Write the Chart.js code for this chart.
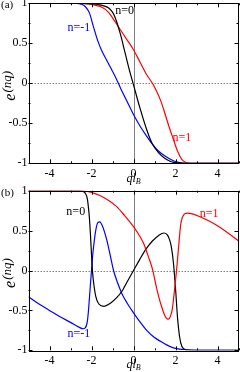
<!DOCTYPE html>
<html>
<head>
<meta charset="utf-8">
<script src="https://cdn.jsdelivr.net/npm/chart.js@4/dist/chart.umd.min.js"></script>
<style>
  html, body { margin: 0; padding: 0; background: #fff; }
  #wrap { position: relative; width: 240px; height: 372px; }
  canvas { position: absolute; left: 0; display: block; }
</style>
</head>
<body>
<div id="wrap">
  <canvas id="chartA" width="240" height="186" style="top:0"></canvas>
  <canvas id="chartB" width="240" height="186" style="top:186px"></canvas>
</div>
<script>
// ---- data ----
const xTickVals = [-4, -2, 0, 2, 4];
const yTickVals = [-1, -0.5, 0, 0.5, 1];
const yTickText = ['-1', '-0.5', '0', '0.5', '1'];

// panel (a)
const aBlackX = [-5, -2.5, -2, -1.5, -1.2, -1.0, -0.87, -0.63, -0.4, -0.16, 0, 0.32, 0.63, 0.9, 1.2, 1.5, 1.8, 2.1, 2.5, 5];
const aBlackY = [1, 1, 0.995, 0.975, 0.945, 0.89, 0.82, 0.62, 0.38, 0.13, -0.02, -0.32, -0.58, -0.76, -0.87, -0.94, -0.98, -0.995, -1, -1];
const aRedX = [-5, -2.5, -2.1, -1.8, -1.5, -1.2, -0.9, -0.6, -0.3, 0, 0.3, 0.6, 0.9, 1.1, 1.3, 1.5, 1.7, 1.9, 2.1, 2.3, 2.5, 2.7, 3, 5];
const aRedY = [1, 1, 0.99, 0.975, 0.95, 0.89, 0.78, 0.66, 0.54, 0.42, 0.27, 0.12, 0.0, -0.1, -0.22, -0.38, -0.55, -0.7, -0.85, -0.95, -0.99, -1, -1, -1];
const aBlueX = [-5, -2.7, -2.5, -2.3, -2.1, -1.9, -1.7, -1.5, -1.3, -1.1, -0.9, -0.6, -0.3, 0, 0.3, 0.6, 0.9, 1.2, 1.5, 1.8, 2.1, 2.5, 3, 5];
const aBlueY = [1, 1, 0.99, 0.96, 0.88, 0.7, 0.53, 0.4, 0.3, 0.2, 0.1, -0.07, -0.23, -0.39, -0.53, -0.65, -0.76, -0.85, -0.91, -0.955, -0.985, -1, -1, -1];

// panel (b)
const bBlackX = [-5, -2.6, -2.4, -2.3, -2.2, -2.15, -2.1, -2.05, -2.0, -1.95, -1.9, -1.8, -1.65, -1.4, -1.1, -0.8, -0.55, -0.3, 0, 0.3, 0.6, 0.9, 1.2, 1.45, 1.6, 1.7, 1.8, 1.9, 2.0, 2.1, 2.2, 2.3, 2.5, 3, 5];
const bBlackY = [1, 1, 0.99, 0.97, 0.9, 0.8, 0.66, 0.45, 0.2, -0.02, -0.15, -0.32, -0.42, -0.45, -0.41, -0.34, -0.26, -0.14, 0, 0.14, 0.27, 0.37, 0.44, 0.47, 0.45, 0.4, 0.3, 0.1, -0.22, -0.6, -0.84, -0.95, -0.995, -1, -1];
const bRedX = [-5, -2.5, -2.2, -1.9, -1.6, -1.2, -0.8, -0.4, 0, 0.3, 0.5, 0.7, 0.9, 1.1, 1.3, 1.5, 1.6, 1.67, 1.75, 1.85, 1.95, 2.05, 2.15, 2.25, 2.4, 2.55, 2.8, 3.2, 3.6, 4, 4.5, 5];
const bRedY = [1, 1, 0.99, 0.97, 0.94, 0.88, 0.8, 0.68, 0.55, 0.43, 0.33, 0.18, 0.02, -0.22, -0.42, -0.57, -0.605, -0.61, -0.58, -0.48, -0.25, 0.0, 0.3, 0.58, 0.7, 0.72, 0.71, 0.67, 0.62, 0.56, 0.47, 0.37];
const bBlueX = [-5, -4.5, -4, -3.5, -3, -2.6, -2.4, -2.3, -2.2, -2.15, -2.1, -2.05, -2.0, -1.95, -1.9, -1.8, -1.7, -1.6, -1.5, -1.4, -1.27, -1.1, -0.95, -0.75, -0.55, -0.3, 0, 0.3, 0.63, 1, 1.3, 1.6, 1.9, 2.3, 2.8, 5];
const bBlueY = [-0.33, -0.42, -0.5, -0.58, -0.65, -0.71, -0.73, -0.72, -0.64, -0.52, -0.35, -0.17, 0.0, 0.17, 0.3, 0.5, 0.6, 0.61, 0.57, 0.5, 0.38, 0.18, 0.0, -0.16, -0.29, -0.41, -0.53, -0.64, -0.75, -0.84, -0.89, -0.935, -0.97, -0.99, -1, -1];

// curve labels: [text, x, y] in data units
const aLabels = [['n=0', -0.42, 0.9], ['n=-1', -2.6, 0.69], ['n=1', 2.3, -0.68]];
const bLabels = [['n=0', -2.75, 0.74], ['n=-1', -2.6, -0.79], ['n=1', 3.6, 0.71]];

const BLACK = '#000000';
const RED = '#ff0000';
const BLUE = '#0000ff';
const SERIF = '"Liberation Serif", "DejaVu Serif", serif';

function pts(xs, ys) {
  return xs.map((x, i) => ({ x: x, y: ys[i] }));
}

function lineSet(xs, ys, color) {
  return {
    data: pts(xs, ys),
    borderColor: color,
    borderWidth: 1.2,
    pointRadius: 0,
    fill: false,
    cubicInterpolationMode: 'monotone'
  };
}

// frame, inward ticks, zero lines, titles
function framePlugin(tag, labels) {
  return {
    id: 'frame',
    beforeDatasetsDraw(chart) {
      const { ctx, chartArea: a, scales } = chart;
      const x0 = scales.x.getPixelForValue(0);
      const y0 = scales.y.getPixelForValue(0);
      ctx.save();
      ctx.strokeStyle = '#808080';
      ctx.lineWidth = 1;
      ctx.beginPath();
      ctx.moveTo(Math.round(x0) + 0.5, a.top);
      ctx.lineTo(Math.round(x0) + 0.5, a.bottom);
      ctx.stroke();
      ctx.setLineDash([1.5, 1.5]);
      ctx.beginPath();
      ctx.moveTo(a.left, Math.round(y0) + 0.5);
      ctx.lineTo(a.right, Math.round(y0) + 0.5);
      ctx.stroke();
      ctx.restore();
    },
    afterDatasetsDraw(chart) {
      const { ctx, chartArea: a, scales } = chart;
      ctx.save();
      ctx.strokeStyle = '#000';
      ctx.lineWidth = 1;
      // ticks
      ctx.beginPath();
      for (let v = -5; v <= 5; v += 1) {
        const px = Math.round(scales.x.getPixelForValue(v)) + 0.5;
        const len = (v % 2 === 0) ? 4 : 2;
        ctx.moveTo(px, a.bottom); ctx.lineTo(px, a.bottom - len);
        ctx.moveTo(px, a.top); ctx.lineTo(px, a.top + len);
      }
      for (let v = -1; v <= 1.001; v += 0.25) {
        const py = Math.round(scales.y.getPixelForValue(v)) + 0.5;
        const major = Math.abs(v * 2 - Math.round(v * 2)) < 1e-6;
        const len = major ? 4 : 2;
        ctx.moveTo(a.left, py); ctx.lineTo(a.left + len, py);
        ctx.moveTo(a.right, py); ctx.lineTo(a.right - len, py);
      }
      ctx.stroke();
      // frame
      ctx.strokeStyle = '#000';
      ctx.strokeRect(Math.round(a.left) + 0.5, Math.round(a.top) + 0.5,
        Math.round(a.right - a.left) - 1, Math.round(a.bottom - a.top));

      // curve labels
      ctx.font = '12px ' + SERIF;
      ctx.textAlign = 'center';
      ctx.textBaseline = 'middle';
      const cols = { 'n=0': BLACK, 'n=-1': BLUE, 'n=1': RED };
      labels.forEach(([t, lx, ly]) => {
        ctx.fillStyle = cols[t];
        ctx.fillText(t, scales.x.getPixelForValue(lx), scales.y.getPixelForValue(ly));
      });

      // panel tag
      ctx.fillStyle = '#000';
      ctx.font = '11px ' + SERIF;
      ctx.textAlign = 'left';
      ctx.textBaseline = 'alphabetic';
      ctx.fillText(tag, 1, a.top + 5);

      // y title e^(nq), rotated
      const yc = (a.top + a.bottom) / 2;
      ctx.save();
      ctx.translate(0, yc);
      ctx.rotate(-Math.PI / 2);
      ctx.font = 'italic 16px ' + SERIF;
      const wE = ctx.measureText('e').width;
      ctx.font = 'italic 13px ' + SERIF;
      const wS = ctx.measureText('(nq)').width;
      const start = -(wE + wS) / 2 - 3;
      ctx.font = 'italic 16px ' + SERIF;
      ctx.fillText('e', start, 15);
      ctx.font = 'italic 13px ' + SERIF;
      ctx.fillText('(nq)', start + wE + 1, 11);
      ctx.restore();

      // x title ql_B
      const xc = scales.x.getPixelForValue(0);
      const base = chart.height - 4.5;
      ctx.font = 'italic 12px ' + SERIF;
      const wq = ctx.measureText('ql').width;
      ctx.font = 'italic 8px ' + SERIF;
      const wb = ctx.measureText('B').width;
      let sx = xc - (wq + wb) / 2;
      ctx.font = 'italic 12px ' + SERIF;
      ctx.fillText('ql', sx, base);
      ctx.font = 'italic 8px ' + SERIF;
      ctx.fillText('B', sx + wq, base + 2);
      ctx.restore();
    }
  };
}

function makePanel(id, datasets, tag, labels, padTop, bottomH) {
  const ctx = document.getElementById(id).getContext('2d');
  return new Chart(ctx, {
    type: 'line',
    data: { datasets: datasets },
    options: {
      responsive: false,
      animation: false,
      events: [],
      layout: { padding: { top: padTop, right: 1.5, left: 0, bottom: 0 } },
      plugins: { legend: { display: false }, tooltip: { enabled: false } },
      scales: {
        x: {
          type: 'linear',
          min: -5, max: 5,
          afterBuildTicks: (s) => { s.ticks = xTickVals.map(v => ({ value: v })); },
          afterFit: (s) => { s.height = bottomH; s.paddingLeft = 0; s.paddingRight = 0; },
          grid: { display: false, drawTicks: false },
          border: { display: false },
          ticks: { color: '#000', padding: 3, maxRotation: 0, font: { family: SERIF, size: 12 },
                   callback: (v) => String(v) }
        },
        y: {
          min: -1, max: 1,
          afterBuildTicks: (s) => { s.ticks = yTickVals.map(v => ({ value: v })); },
          afterFit: (s) => { s.width = 28.5; s.paddingTop = 0; s.paddingBottom = 0; },
          grid: { display: false, drawTicks: false },
          border: { display: false },
          ticks: { color: '#000', padding: 1, font: { family: SERIF, size: 12 },
                   callback: (v) => yTickText[yTickVals.indexOf(v)] }
        }
      }
    },
    plugins: [framePlugin(tag, labels)]
  });
}

makePanel('chartA', [
  lineSet(aBlackX, aBlackY, BLACK),
  lineSet(aRedX, aRedY, RED),
  lineSet(aBlueX, aBlueY, BLUE)
], '(a)', aLabels, 3.3, 22.7);

makePanel('chartB', [
  lineSet(bRedX, bRedY, RED),
  lineSet(bBlackX, bBlackY, BLACK),
  lineSet(bBlueX, bBlueY, BLUE)
], '(b)', bLabels, 4.7, 21.7);
</script>
</body>
</html>
